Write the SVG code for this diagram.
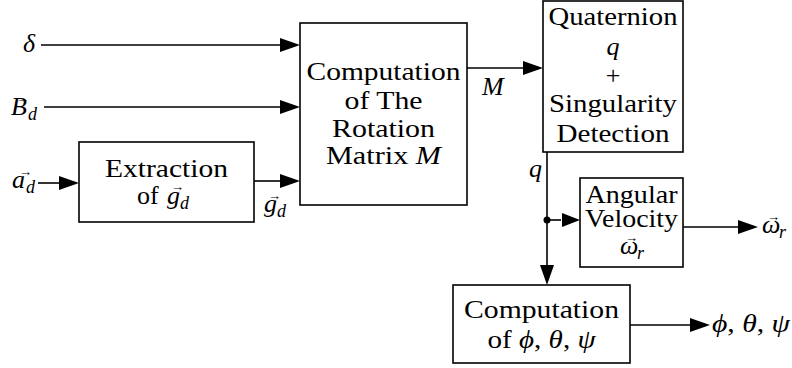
<svg xmlns="http://www.w3.org/2000/svg" width="792" height="368" viewBox="0 0 792 368">
<rect width="792" height="368" fill="#fff"/>
<g id="connectors" stroke="#000" stroke-width="1.6" fill="none">
<path d="M41,45 H281"/>
<path d="M44,107 H281"/>
<path d="M38,183 H60"/>
<path d="M254,181 H281"/>
<path d="M467,68 H524"/>
<path d="M547,152 V266"/>
<path d="M547,220 H561"/>
<path d="M683,227 H739"/>
<path d="M630,325 H691"/>
</g>
<g id="arrowheads" fill="#000">
<polygon points="280,38 300,45 280,52"/>
<polygon points="280,100 300,107 280,114"/>
<polygon points="59,176 79,183 59,190"/>
<polygon points="280,174 300,181 280,188"/>
<polygon points="523,61 543,68 523,75"/>
<polygon points="540,265 547,285 554,265"/>
<polygon points="562,213 580,220 562,227"/>
<polygon points="738,220 758,227 738,234"/>
<polygon points="690,318 710,325 690,332"/>
<circle cx="547" cy="220" r="3.5"/>
</g>

<g id="input-delta">
<text x="23" y="52" font-family="Liberation Serif" font-size="26" font-style="italic">δ</text>
</g>
<g id="input-B">
<text x="11" y="115" font-family="Liberation Serif" font-size="26" font-style="italic">B</text>
<text x="16" y="103" font-family="Liberation Serif" font-size="13">→</text>
<text x="28" y="120" font-family="Liberation Serif" font-size="18" font-style="italic">d</text>
</g>
<g id="input-a">
<text x="12" y="188" font-family="Liberation Serif" font-size="26" font-style="italic">a</text>
<text x="19" y="176" font-family="Liberation Serif" font-size="13">→</text>
<text x="26" y="193" font-family="Liberation Serif" font-size="18" font-style="italic">d</text>
</g>

<g id="extraction">
<rect x="79" y="142" width="175" height="80" fill="#fff" stroke="#000" stroke-width="1.6"/>
<text x="166.5" y="177" text-anchor="middle" font-family="Times New Roman" font-size="26" textLength="123" lengthAdjust="spacingAndGlyphs">Extraction</text>
<text x="137" y="204" font-family="Times New Roman" font-size="26">of</text>
<text x="167" y="204" font-family="Times New Roman" font-size="26" font-style="italic">g</text>
<text x="171" y="191" font-family="Times New Roman" font-size="13">→</text>
<text x="180" y="209" font-family="Times New Roman" font-size="18" font-style="italic">d</text>
</g>

<g id="label-g">
<text x="264" y="212" font-family="Liberation Serif" font-size="26" font-style="italic">g</text>
<text x="268" y="200" font-family="Liberation Serif" font-size="13">→</text>
<text x="277" y="217" font-family="Liberation Serif" font-size="18" font-style="italic">d</text>
</g>

<g id="rotation">
<rect x="300" y="23" width="167" height="182" fill="#fff" stroke="#000" stroke-width="1.6"/>
<text x="383.5" y="80" text-anchor="middle" font-family="Liberation Serif" font-size="26" textLength="154" lengthAdjust="spacingAndGlyphs">Computation</text>
<text x="383.5" y="109" text-anchor="middle" font-family="Liberation Serif" font-size="26" textLength="78" lengthAdjust="spacingAndGlyphs">of The</text>
<text x="383.5" y="137" text-anchor="middle" font-family="Liberation Serif" font-size="26" textLength="103" lengthAdjust="spacingAndGlyphs">Rotation</text>
<text x="383.5" y="164" text-anchor="middle" font-family="Liberation Serif" font-size="26" textLength="115" lengthAdjust="spacingAndGlyphs">Matrix <tspan font-style="italic">M</tspan></text>
</g>

<g id="label-M">
<text x="482" y="95" font-family="Liberation Serif" font-size="26" font-style="italic">M</text>
</g>

<g id="quaternion">
<rect x="543" y="1" width="140" height="151" fill="#fff" stroke="#000" stroke-width="1.6"/>
<text x="613" y="25" text-anchor="middle" style="font-family:'Liberation Serif'" font-size="26" textLength="129" lengthAdjust="spacingAndGlyphs">Quaternion</text>
<text x="613" y="55" text-anchor="middle" style="font-family:'Liberation Serif'" font-size="26" font-style="italic">q</text>
<text x="613" y="84" text-anchor="middle" style="font-family:'Liberation Serif'" font-size="26">+</text>
<text x="613" y="112" text-anchor="middle" style="font-family:'Liberation Serif'" font-size="26" textLength="128" lengthAdjust="spacingAndGlyphs">Singularity</text>
<text x="613" y="142" text-anchor="middle" style="font-family:'Liberation Serif'" font-size="26" textLength="113" lengthAdjust="spacingAndGlyphs">Detection</text>
</g>

<g id="label-q">
<text x="529" y="177" font-family="Liberation Serif" font-size="26" font-style="italic">q</text>
</g>

<g id="angular">
<rect x="580" y="178" width="103" height="89" fill="#fff" stroke="#000" stroke-width="1.6"/>
<text x="631.5" y="203" text-anchor="middle" font-family="Tinos" font-size="26" textLength="92" lengthAdjust="spacingAndGlyphs">Angular</text>
<text x="631.5" y="227" text-anchor="middle" font-family="Tinos" font-size="26" textLength="93" lengthAdjust="spacingAndGlyphs">Velocity</text>
<text x="620" y="254" font-family="Tinos" font-size="26" font-style="italic">ω</text>
<text x="625" y="242" font-family="Tinos" font-size="13">→</text>
<text x="637" y="259" font-family="Tinos" font-size="18" font-style="italic">r</text>
</g>

<g id="label-omega">
<text x="762" y="233" font-family="Liberation Serif" font-size="26" font-style="italic">ω</text>
<text x="767" y="221" font-family="Liberation Serif" font-size="13">→</text>
<text x="779" y="238" font-family="Liberation Serif" font-size="18" font-style="italic">r</text>
</g>

<g id="euler">
<rect x="453" y="285" width="177" height="78" fill="#fff" stroke="#000" stroke-width="1.6"/>
<text x="541.5" y="318" text-anchor="middle" font-family="Liberation Serif" font-size="26" textLength="155" lengthAdjust="spacingAndGlyphs">Computation</text>
<text x="541.5" y="348" text-anchor="middle" font-family="Liberation Serif" font-size="26" textLength="108" lengthAdjust="spacingAndGlyphs">of <tspan font-style="italic">ϕ</tspan>, <tspan font-style="italic">θ</tspan>, <tspan font-style="italic">ψ</tspan></text>
</g>

<g id="label-angles">
<text x="712" y="332" font-family="Liberation Serif" font-size="26" font-style="italic" textLength="78" lengthAdjust="spacingAndGlyphs">ϕ<tspan font-style="normal">, </tspan>θ<tspan font-style="normal">, </tspan>ψ</text>
</g>
</svg>
